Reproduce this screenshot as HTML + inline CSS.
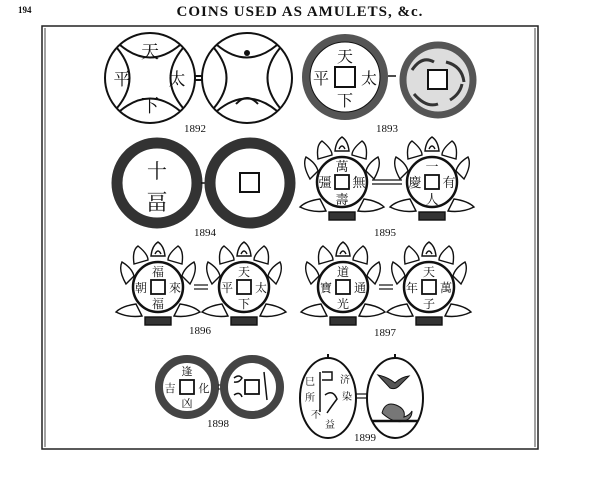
<!DOCTYPE html>
<html><head><meta charset="utf-8"><style>
html,body{margin:0;padding:0;background:#fff;}
svg{display:block;}
.cj{font-family:"Noto Serif CJK SC","Noto Sans CJK SC",serif;fill:#111;text-anchor:middle;}
.lb{font-family:"Liberation Serif",serif;font-size:11px;fill:#111;text-anchor:middle;}
</style></head><body>
<svg width="600" height="481" viewBox="0 0 600 481" xmlns="http://www.w3.org/2000/svg">
<defs>
<g id="lotus" fill="#fff" stroke="#111" stroke-width="1.4">
  <path d="M-7,-34 Q-6,-44 0,-48 Q6,-44 7,-34 Z"/>
  <path d="M-3,-36 Q0,-42 3,-36" fill="none"/>
  <path d="M-24,-26 Q-26,-40 -20,-44 Q-10,-36 -10,-30 Z"/>
  <path d="M24,-26 Q26,-40 20,-44 Q10,-36 10,-30 Z"/>
  <path d="M-32,-6 Q-40,-20 -36,-28 Q-26,-22 -24,-14 Z"/>
  <path d="M32,-6 Q40,-20 36,-28 Q26,-22 24,-14 Z"/>
  <path d="M-22,14 Q-36,16 -42,22 Q-30,28 -16,26 Z"/>
  <path d="M22,14 Q36,16 42,22 Q30,28 16,26 Z"/>
  <rect x="-13" y="27" width="26" height="8" fill="#333"/>
</g>
</defs>
<text x="18" y="13" font-family="Liberation Serif,serif" font-size="9" font-weight="bold" fill="#111">194</text>
<text x="300" y="16" font-family="Liberation Serif,serif" font-size="15" font-weight="bold" fill="#111" text-anchor="middle" letter-spacing="1">COINS USED AS AMULETS, &amp;c.</text>
<rect x="42" y="26" width="496" height="423" fill="none" stroke="#222" stroke-width="1.5"/>
<line x1="45" y1="28" x2="45" y2="447" stroke="#444" stroke-width="1"/>
<line x1="535" y1="28" x2="535" y2="447" stroke="#444" stroke-width="1"/>

<!-- 1892 -->
<g stroke="#111" stroke-width="2" fill="none">
<circle cx="150" cy="78" r="45"/>
<path d="M120,45 Q150,70 180,45 M120,111 Q150,86 180,111 M117,48 Q142,78 117,108 M183,48 Q158,78 183,108"/>
<circle cx="247" cy="78" r="45"/>
<path d="M217,45 Q247,70 277,45 M217,111 Q247,86 277,111 M214,48 Q239,78 214,108 M280,48 Q255,78 280,108"/>
<line x1="195" y1="76" x2="202" y2="76"/><line x1="195" y1="80" x2="202" y2="80"/>
<path d="M236,104 Q247,92 258,104"/>
</g>
<circle cx="247" cy="53" r="3" fill="#111"/>
<text class="cj" x="150" y="58" font-size="18">天</text>
<text class="cj" x="150" y="112" font-size="18">下</text>
<text class="cj" x="122" y="85" font-size="17">平</text>
<text class="cj" x="177" y="85" font-size="17">太</text>
<text class="lb" x="195" y="132">1892</text>

<!-- 1893 -->
<circle cx="345" cy="77" r="39" fill="none" stroke="#555" stroke-width="8"/>
<circle cx="345" cy="77" r="35" fill="none" stroke="#111" stroke-width="1"/>
<rect x="335" y="67" width="20" height="20" fill="none" stroke="#111" stroke-width="2"/>
<text class="cj" x="345" y="62" font-size="16">天</text>
<text class="cj" x="345" y="106" font-size="16">下</text>
<text class="cj" x="321" y="84" font-size="16">平</text>
<text class="cj" x="369" y="84" font-size="16">太</text>
<line x1="388" y1="76" x2="396" y2="76" stroke="#111" stroke-width="1.5"/>
<circle cx="438" cy="80" r="35" fill="#ddd" stroke="#555" stroke-width="7"/>
<path d="M412,70 q10,-15 22,-8 M446,62 q16,4 18,20 M414,94 q12,14 24,10 M450,100 q10,-6 12,-16" stroke="#333" stroke-width="3" fill="none"/>
<rect x="428" y="70" width="19" height="19" fill="#fff" stroke="#111" stroke-width="2"/>
<text class="lb" x="387" y="132">1893</text>

<!-- 1894 -->
<circle cx="157" cy="183" r="40" fill="#fff" stroke="#333" stroke-width="11"/>
<text class="cj" x="157" y="178" font-size="20">十</text>
<text class="cj" x="157" y="210" font-size="22">畐</text>
<line x1="201" y1="183" x2="208" y2="183" stroke="#111" stroke-width="1.5"/>
<circle cx="250" cy="183" r="40" fill="#fff" stroke="#333" stroke-width="11"/>
<rect x="240" y="173" width="19" height="19" fill="none" stroke="#111" stroke-width="2"/>
<text class="lb" x="205" y="236">1894</text>

<!-- 1895 -->
<use href="#lotus" x="342" y="185"/>
<circle cx="342" cy="182" r="25" fill="#fff" stroke="#111" stroke-width="2.5"/>
<rect x="335" y="175" width="14" height="14" fill="none" stroke="#111" stroke-width="1.8"/>
<text class="cj" x="342" y="171" font-size="13">萬</text>
<text class="cj" x="342" y="204" font-size="13">壽</text>
<text class="cj" x="325" y="187" font-size="13">彊</text>
<text class="cj" x="359" y="187" font-size="13">無</text>
<line x1="372" y1="180" x2="402" y2="180" stroke="#111" stroke-width="1.2"/>
<line x1="372" y1="184" x2="402" y2="184" stroke="#111" stroke-width="1.2"/>
<use href="#lotus" x="432" y="185"/>
<circle cx="432" cy="182" r="25" fill="#fff" stroke="#111" stroke-width="2.5"/>
<rect x="425" y="175" width="14" height="14" fill="none" stroke="#111" stroke-width="1.8"/>
<text class="cj" x="432" y="171" font-size="13">一</text>
<text class="cj" x="432" y="204" font-size="13">人</text>
<text class="cj" x="415" y="187" font-size="13">慶</text>
<text class="cj" x="449" y="187" font-size="13">有</text>
<text class="lb" x="385" y="236">1895</text>

<!-- 1896 -->
<use href="#lotus" x="158" y="290"/>
<circle cx="158" cy="287" r="25" fill="#fff" stroke="#111" stroke-width="2.5"/>
<rect x="151" y="280" width="14" height="14" fill="none" stroke="#111" stroke-width="1.8"/>
<text class="cj" x="158" y="276" font-size="12">福</text>
<text class="cj" x="158" y="308" font-size="12">福</text>
<text class="cj" x="141" y="292" font-size="12">朝</text>
<text class="cj" x="175" y="292" font-size="12">來</text>
<line x1="194" y1="285" x2="208" y2="285" stroke="#111" stroke-width="1.2"/>
<line x1="194" y1="289" x2="208" y2="289" stroke="#111" stroke-width="1.2"/>
<use href="#lotus" x="244" y="290"/>
<circle cx="244" cy="287" r="25" fill="#fff" stroke="#111" stroke-width="2.5"/>
<rect x="237" y="280" width="14" height="14" fill="none" stroke="#111" stroke-width="1.8"/>
<text class="cj" x="244" y="276" font-size="12">天</text>
<text class="cj" x="244" y="308" font-size="12">下</text>
<text class="cj" x="227" y="292" font-size="12">平</text>
<text class="cj" x="261" y="292" font-size="12">太</text>
<text class="lb" x="200" y="334">1896</text>

<!-- 1897 -->
<use href="#lotus" x="343" y="290"/>
<circle cx="343" cy="287" r="25" fill="#fff" stroke="#111" stroke-width="2.5"/>
<rect x="336" y="280" width="14" height="14" fill="none" stroke="#111" stroke-width="1.8"/>
<text class="cj" x="343" y="276" font-size="12">道</text>
<text class="cj" x="343" y="308" font-size="12">光</text>
<text class="cj" x="326" y="292" font-size="12">寶</text>
<text class="cj" x="360" y="292" font-size="12">通</text>
<line x1="379" y1="285" x2="393" y2="285" stroke="#111" stroke-width="1.2"/>
<line x1="379" y1="289" x2="393" y2="289" stroke="#111" stroke-width="1.2"/>
<use href="#lotus" x="429" y="290"/>
<circle cx="429" cy="287" r="25" fill="#fff" stroke="#111" stroke-width="2.5"/>
<rect x="422" y="280" width="14" height="14" fill="none" stroke="#111" stroke-width="1.8"/>
<text class="cj" x="429" y="276" font-size="12">天</text>
<text class="cj" x="429" y="308" font-size="12">子</text>
<text class="cj" x="412" y="292" font-size="12">年</text>
<text class="cj" x="446" y="292" font-size="12">萬</text>
<text class="lb" x="385" y="336">1897</text>

<!-- 1898 -->
<circle cx="187" cy="387" r="28" fill="#fff" stroke="#444" stroke-width="8"/>
<rect x="180" y="380" width="14" height="14" fill="none" stroke="#111" stroke-width="1.8"/>
<text class="cj" x="187" y="375" font-size="11">逢</text>
<text class="cj" x="187" y="407" font-size="11">凶</text>
<text class="cj" x="170" y="392" font-size="11">吉</text>
<text class="cj" x="204" y="392" font-size="11">化</text>
<line x1="218" y1="385" x2="224" y2="385" stroke="#111" stroke-width="1"/>
<line x1="218" y1="389" x2="224" y2="389" stroke="#111" stroke-width="1"/>
<circle cx="252" cy="387" r="28" fill="#fff" stroke="#444" stroke-width="8"/>
<rect x="245" y="380" width="14" height="14" fill="none" stroke="#111" stroke-width="1.8"/>
<path d="M234,378 q5,-4 8,0 q-3,5 -8,4 M234,395 q6,-4 8,2 M264,372 l3,28" stroke="#111" stroke-width="1.5" fill="none"/>
<text class="lb" x="218" y="427">1898</text>

<!-- 1899 -->
<ellipse cx="328" cy="398" rx="28" ry="40" fill="#fff" stroke="#111" stroke-width="2"/>
<ellipse cx="395" cy="398" rx="28" ry="40" fill="#fff" stroke="#111" stroke-width="2"/>
<path d="M328,354 v4 M395,354 v4" stroke="#111" stroke-width="2"/>
<line x1="356" y1="394" x2="367" y2="394" stroke="#111" stroke-width="1.2"/>
<line x1="356" y1="398" x2="367" y2="398" stroke="#111" stroke-width="1.2"/>
<text class="cj" x="310" y="385" font-size="10">巳</text>
<text class="cj" x="310" y="401" font-size="10">所</text>
<text class="cj" x="316" y="418" font-size="10">不</text>
<text class="cj" x="345" y="383" font-size="10">济</text>
<text class="cj" x="347" y="400" font-size="10">染</text>
<text class="cj" x="330" y="428" font-size="10">益</text>
<path d="M320,372 v40 M322,372 h10 v8 h-10 M325,395 q8,-6 12,4 q-6,8 -10,14" stroke="#111" stroke-width="1.5" fill="none"/>
<path d="M378,375 q10,2 17,8 q6,-6 14,-7 q-6,6 -10,10 q-4,4 -9,2 z" fill="#555" stroke="#111" stroke-width="1"/>
<path d="M382,413 q3,-12 14,-8 q10,4 8,12 q6,-2 8,-6 q0,8 -8,10 q-10,3 -22,-8" fill="#777" stroke="#111" stroke-width="1"/>
<line x1="372" y1="421" x2="418" y2="421" stroke="#111" stroke-width="2.5"/>
<text class="lb" x="365" y="441">1899</text>
</svg>
</body></html>
